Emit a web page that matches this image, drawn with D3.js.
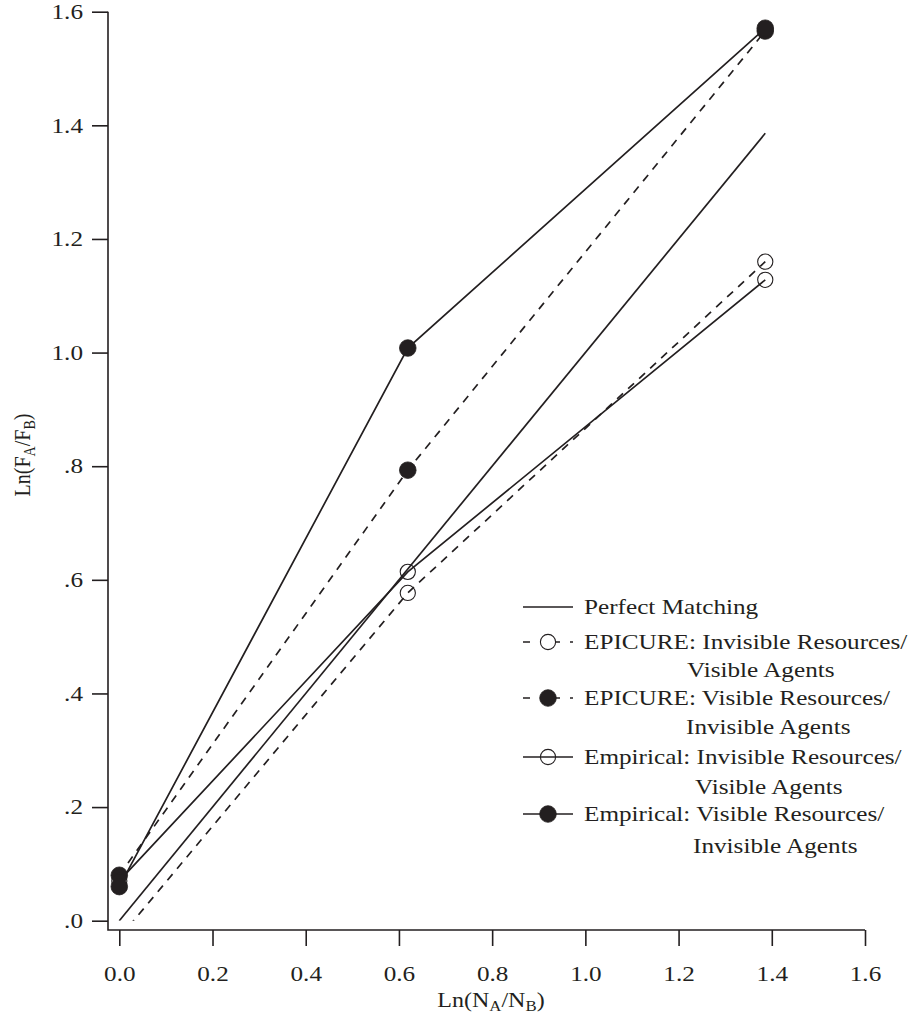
<!DOCTYPE html>
<html>
<head>
<meta charset="utf-8">
<script src="https://cdn.jsdelivr.net/npm/d3@7"></script>
<style>
  html, body { margin: 0; padding: 0; background: #fff; }
  svg text { font-family: "Liberation Serif", "DejaVu Serif", serif; fill: #231f20; }
</style>
</head>
<body>
<svg id="chart" width="921" height="1018"></svg>
<script>
// values
var xVals = [0, 0.619, 1.386];
var perfectX = [0, 1.386];
var perfectY = [0, 1.386];
var epicureInvisible = [-0.03, 0.577, 1.160];
var epicureVisible = [0.080, 0.793, 1.566];
var empiricalInvisible = [0.070, 0.614, 1.128];
var empiricalVisible = [0.060, 1.008, 1.571];

var xTicks = [0, 0.2, 0.4, 0.6, 0.8, 1.0, 1.2, 1.4, 1.6];
var xTickLabels = ['0.0', '0.2', '0.4', '0.6', '0.8', '1.0', '1.2', '1.4', '1.6'];
var yTicks = [0, 0.2, 0.4, 0.6, 0.8, 1.0, 1.2, 1.4, 1.6];
var yTickLabels = ['.0', '.2', '.4', '.6', '.8', '1.0', '1.2', '1.4', '1.6'];

var legendFirst = ['Perfect Matching', 'EPICURE: Invisible Resources/', 'EPICURE: Visible Resources/',
    'Empirical: Invisible Resources/', 'Empirical: Visible Resources/'];
var legendSecond = ['', 'Visible Agents', 'Invisible Agents', 'Visible Agents', 'Invisible Agents'];

var ink = '#231f20';
var SX = 1.2;   // text in the picture is stretched sideways
var fontSize = 21;

var svg = d3.select('#chart');

var x = d3.scaleLinear().domain([0, 1.6]).range([119.3, 865]);
var y = d3.scaleLinear().domain([0, 1.6]).range([920.7, 11.7]);

var axisX0 = 108, axisY0 = 930;

var stretchText = function (sel) {
    sel.each(function () {
        var t = d3.select(this);
        var ox = +t.attr('x') || 0;
        var oy = +t.attr('y') || 0;
        t.attr('x', 0).attr('y', 0)
         .attr('transform', 'translate(' + ox + ',' + oy + ') scale(' + SX + ',1)');
    });
};

// axes
var gy = svg.append('g')
    .attr('transform', 'translate(' + axisX0 + ',0)')
    .call(d3.axisLeft(y).tickValues(yTicks)
        .tickFormat(function (d, i) { return yTickLabels[i]; })
        .tickSizeInner(16).tickSizeOuter(0).tickPadding(9));
gy.select('.domain').remove();
gy.selectAll('.tick line').attr('stroke', ink).attr('stroke-width', 1.6);
gy.selectAll('.tick text').attr('font-size', fontSize).attr('fill', ink).call(stretchText);

var gx = svg.append('g')
    .attr('transform', 'translate(0,' + axisY0 + ')')
    .call(d3.axisBottom(x).tickValues(xTicks)
        .tickFormat(function (d, i) { return xTickLabels[i]; })
        .tickSizeInner(16).tickSizeOuter(0).tickPadding(20));
gx.select('.domain').remove();
gx.selectAll('.tick line').attr('stroke', ink).attr('stroke-width', 1.6);
gx.selectAll('.tick text').attr('font-size', fontSize).attr('fill', ink).call(stretchText);

svg.append('path')
    .attr('d', 'M' + axisX0 + ',' + y(1.6) + 'V' + axisY0 + 'H' + x(1.6))
    .attr('fill', 'none').attr('stroke', ink).attr('stroke-width', 1.6);

// axis titles
var xt = svg.append('text')
    .attr('text-anchor', 'middle').attr('font-size', 20)
    .attr('transform', 'translate(491,1007) scale(' + SX + ',1)');
xt.append('tspan').text('Ln(N');
xt.append('tspan').attr('font-size', 14).attr('dy', 4).text('A');
xt.append('tspan').attr('dy', -4).text('/N');
xt.append('tspan').attr('font-size', 14).attr('dy', 4).text('B');
xt.append('tspan').attr('dy', -4).text(')');

var yt = svg.append('text')
    .attr('text-anchor', 'middle').attr('font-size', 20)
    .attr('transform', 'translate(30,455) scale(' + SX + ',1) rotate(-90)');
yt.append('tspan').text('Ln(F');
yt.append('tspan').attr('font-size', 14).attr('dy', 4).text('A');
yt.append('tspan').attr('dy', -4).text('/F');
yt.append('tspan').attr('font-size', 14).attr('dy', 4).text('B');
yt.append('tspan').attr('dy', -4).text(')');

// plot area
svg.append('clipPath').attr('id', 'plotclip')
    .append('rect').attr('x', axisX0).attr('y', 0)
    .attr('width', 921 - axisX0).attr('height', y(0));

var plot = svg.append('g').attr('clip-path', 'url(#plotclip)');

var line = d3.line()
    .x(function (d) { return x(d[0]); })
    .y(function (d) { return y(d[1]); });

var series = [
    { values: epicureInvisible, dashed: true, filled: false },
    { values: epicureVisible, dashed: true, filled: true },
    { values: empiricalInvisible, dashed: false, filled: false },
    { values: empiricalVisible, dashed: false, filled: true }
];

plot.append('path')
    .datum(d3.zip(perfectX, perfectY))
    .attr('d', line)
    .attr('fill', 'none').attr('stroke', ink).attr('stroke-width', 1.7);

series.forEach(function (s) {
    plot.append('path')
        .datum(d3.zip(xVals, s.values))
        .attr('d', line)
        .attr('fill', 'none').attr('stroke', ink).attr('stroke-width', 1.7)
        .attr('stroke-dasharray', s.dashed ? '8,7' : null);
});

series.forEach(function (s) {
    plot.selectAll(null)
        .data(d3.zip(xVals, s.values))
        .join('circle')
        .attr('cx', function (d) { return x(d[0]); })
        .attr('cy', function (d) { return y(d[1]); })
        .attr('r', s.filled ? 8.3 : 7.6)
        .attr('fill', s.filled ? ink : 'none')
        .attr('stroke', ink).attr('stroke-width', s.filled ? 0.8 : 1.1);
});

// legend
var legRowY = [607, 642, 698, 757, 814];
var legSecondY = [0, 670, 727, 787, 846];
var legSecondX = [0, 687, 686, 695, 693];
var legendStyle = [
    { dashed: false, marker: null },
    { dashed: true, marker: 'open' },
    { dashed: true, marker: 'filled' },
    { dashed: false, marker: 'open' },
    { dashed: false, marker: 'filled' }
];

var leg = svg.append('g');
legendFirst.forEach(function (label, i) {
    var st = legendStyle[i];
    var ly = legRowY[i];
    leg.append('line')
        .attr('x1', 523).attr('x2', 573).attr('y1', ly).attr('y2', ly)
        .attr('stroke', ink).attr('stroke-width', 1.7)
        .attr('stroke-dasharray', st.dashed ? '7,25,5,10,3' : null);
    if (st.marker) {
        leg.append('circle')
            .attr('cx', 548).attr('cy', ly)
            .attr('r', st.marker === 'filled' ? 8.3 : 7.6)
            .attr('fill', st.marker === 'filled' ? ink : 'none')
            .attr('stroke', ink).attr('stroke-width', st.marker === 'filled' ? 0.8 : 1.1);
    }
    leg.append('text')
        .attr('font-size', fontSize)
        .attr('transform', 'translate(584,' + (ly + 7) + ') scale(' + SX + ',1)')
        .text(label);
    if (legendSecond[i]) {
        leg.append('text')
            .attr('font-size', fontSize)
            .attr('transform', 'translate(' + legSecondX[i] + ',' + (legSecondY[i] + 7) + ') scale(' + SX + ',1)')
            .text(legendSecond[i]);
    }
});
</script>
</body>
</html>
